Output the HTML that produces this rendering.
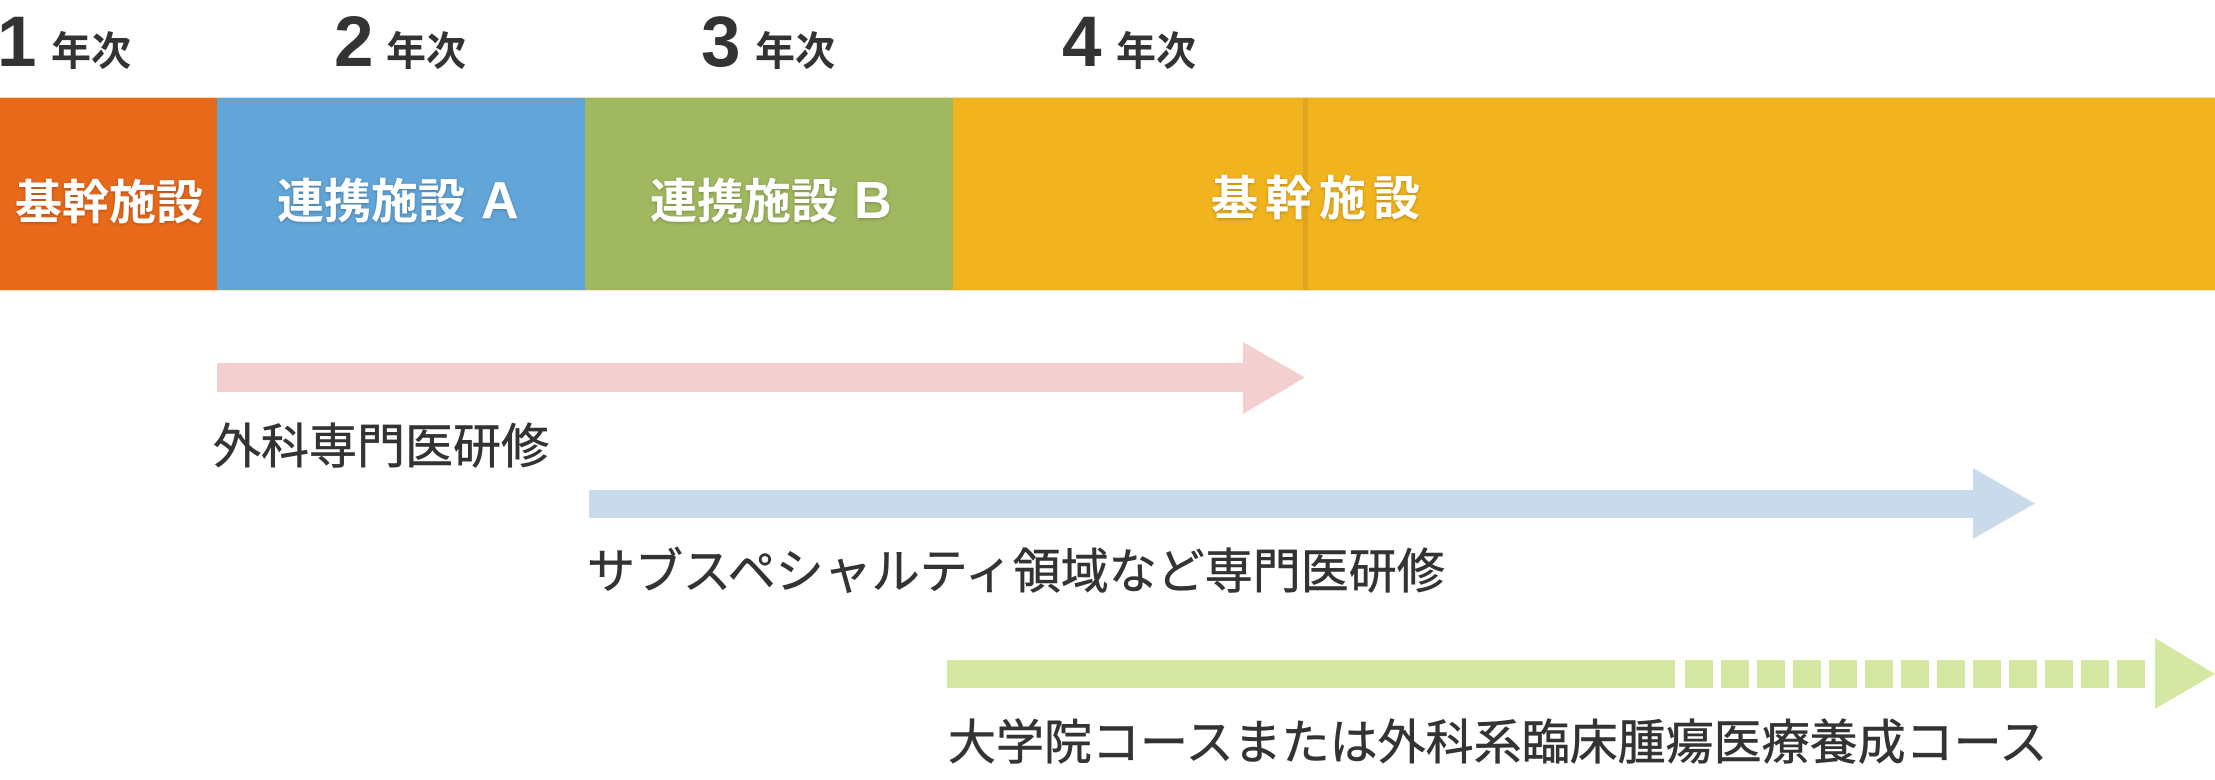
<!DOCTYPE html>
<html>
<head>
<meta charset="utf-8">
<style>
html,body{margin:0;padding:0;background:#fff;}
body{width:2215px;height:780px;overflow:hidden;}
svg{display:block;}
.yr-d{font-family:"Liberation Sans","Noto Sans CJK JP",sans-serif;font-weight:bold;font-size:71px;fill:#333;}
.yr-k{font-family:"Liberation Sans","Noto Sans CJK JP",sans-serif;font-weight:bold;font-size:40px;fill:#333;}
.bl{font-family:"Liberation Sans","Noto Sans CJK JP",sans-serif;font-weight:bold;font-size:47px;fill:#fff;}
.lb{font-family:"Liberation Sans","Noto Sans CJK JP",sans-serif;font-weight:normal;font-size:48px;fill:#333;stroke:#333;stroke-width:0.6px;}
</style>
</head>
<body>
<svg width="2215" height="780" viewBox="0 0 2215 780" xmlns="http://www.w3.org/2000/svg">
  <defs>
    <filter id="sh" x="-10%" y="-30%" width="120%" height="160%">
      <feDropShadow dx="0" dy="1" stdDeviation="1.5" flood-color="#000" flood-opacity="0.25"/>
    </filter>
  </defs>

  <!-- year labels -->
  <text class="yr-d" x="-3" y="66">1</text>
  <text class="yr-k" x="51" y="65">年次</text>
  <text class="yr-d" x="334" y="66">2</text>
  <text class="yr-k" x="386" y="65">年次</text>
  <text class="yr-d" x="701" y="66">3</text>
  <text class="yr-k" x="755" y="65">年次</text>
  <text class="yr-d" x="1062" y="66">4</text>
  <text class="yr-k" x="1116" y="65">年次</text>

  <!-- bar -->
  <rect x="0" y="97" width="2215" height="1" fill="#f6dfb0"/>
  <rect x="0" y="98" width="217" height="192" fill="#e8691a"/>
  <rect x="217" y="98" width="368" height="192" fill="#62a5d9"/>
  <rect x="585" y="98" width="368" height="192" fill="#a0b960"/>
  <rect x="953" y="98" width="1262" height="192" fill="#f2b41e"/>
  <rect x="1303" y="98" width="5" height="192" fill="#e2a41c"/>
  <rect x="0" y="290" width="2215" height="1" fill="#f8e7c2"/>

  <!-- bar labels -->
  <g filter="url(#sh)">
    <text class="bl" x="15" y="219">基幹施設</text>
    <text class="bl" x="277" y="218">連携施設<tspan dx="16" font-size="52">A</tspan></text>
    <text class="bl" x="650" y="218">連携施設<tspan dx="16" font-size="52">B</tspan></text>
    <text class="bl" x="1211" y="215" letter-spacing="7">基幹施設</text>
  </g>

  <!-- pink arrow -->
  <rect x="217" y="363" width="1027" height="29" fill="#f3cfcf"/>
  <polygon points="1243,342 1305,377.5 1243,414" fill="#f3cfcf"/>
  <text class="lb" x="213" y="463">外科専門医研修</text>

  <!-- blue arrow -->
  <rect x="589" y="490" width="1385" height="28" fill="#c9daeb"/>
  <polygon points="1973,468 2035,503.5 1973,539" fill="#c9daeb"/>
  <text class="lb" x="587" y="588">サブスペシャルティ領域など専門医研修</text>

  <!-- green arrow -->
  <rect x="947" y="660" width="728" height="28" fill="#d5e8a3"/>
  <g fill="#d5e8a3">
    <rect x="1685" y="660" width="28" height="28"/>
    <rect x="1721" y="660" width="28" height="28"/>
    <rect x="1757" y="660" width="28" height="28"/>
    <rect x="1793" y="660" width="28" height="28"/>
    <rect x="1829" y="660" width="28" height="28"/>
    <rect x="1865" y="660" width="28" height="28"/>
    <rect x="1901" y="660" width="28" height="28"/>
    <rect x="1937" y="660" width="28" height="28"/>
    <rect x="1973" y="660" width="28" height="28"/>
    <rect x="2009" y="660" width="28" height="28"/>
    <rect x="2045" y="660" width="28" height="28"/>
    <rect x="2081" y="660" width="28" height="28"/>
    <rect x="2117" y="660" width="28" height="28"/>
    <polygon points="2155,638 2215,674 2155,709"/>
  </g>
  <text class="lb" x="948" y="759">大学院コースまたは外科系臨床腫瘍医療養成コース</text>
</svg>
</body>
</html>
